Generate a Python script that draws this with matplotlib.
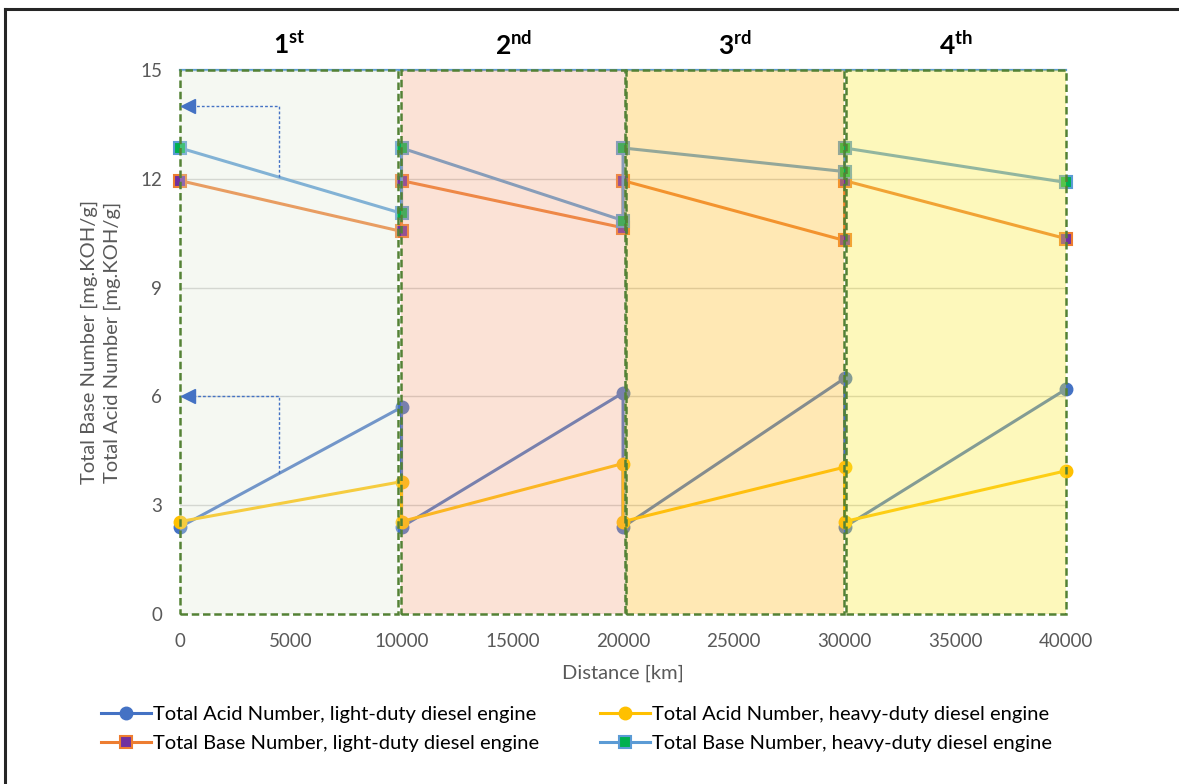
import numpy as np
import matplotlib
matplotlib.use('Agg')
import matplotlib.pyplot as plt
from matplotlib.patches import Rectangle
from matplotlib.lines import Line2D

plt.rcParams['font.family'] = ['Lato', 'DejaVu Sans']
plt.rcParams['mathtext.fontset'] = 'custom'
plt.rcParams['mathtext.rm'] = 'Lato'
plt.rcParams['mathtext.bf'] = 'Lato:bold'

# data
distance = [0, 10000, 10000, 20000, 20000, 30000, 30000, 40000]
tan_light = [2.4, 5.7, 2.4, 6.1, 2.4, 6.5, 2.4, 6.2]
tan_heavy = [2.55, 3.65, 2.55, 4.15, 2.55, 4.05, 2.55, 3.95]
tbn_light = [11.95, 10.55, 11.95, 10.65, 11.95, 10.3, 11.95, 10.35]
tbn_heavy = [12.85, 11.05, 12.85, 10.85, 12.85, 12.2, 12.85, 11.9]

zone_labels = [r'$\mathbf{1^{st}}$', r'$\mathbf{2^{nd}}$', r'$\mathbf{3^{rd}}$', r'$\mathbf{4^{th}}$']
zone_bounds = [(0, 9850), (9980, 20100), (20150, 29980), (30050, 40000)]
zone_colors = ['#dfead6', '#f2a27a', '#ffbe2a', '#fbeb3c']
zone_alpha = [0.3, 0.3, 0.35, 0.35]

legend_labels = ['Total Acid Number, light-duty diesel engine',
                 'Total Base Number, light-duty diesel engine',
                 'Total Acid Number, heavy-duty diesel engine',
                 'Total Base Number, heavy-duty diesel engine']

grey = '#595959'

fig = plt.figure(figsize=(11.79, 7.84), dpi=100)
ax = fig.add_axes([0.1527, 0.2168, 0.7515, 0.6939])

ax.set_xlim(0, 40000)
ax.set_ylim(0, 15)
ax.set_xticks(np.arange(0, 40001, 5000))
ax.set_yticks(np.arange(0, 16, 3))
ax.tick_params(length=0, labelsize=13.5, labelcolor=grey)
ax.tick_params(axis='x', pad=14)
ax.tick_params(axis='y', pad=13)
for s in ['left', 'right', 'bottom']:
    ax.spines[s].set_visible(False)
ax.spines['top'].set_color('#5b9bd5')
ax.spines['top'].set_linewidth(1.6)
ax.yaxis.grid(True, color='#d0d0d0', linewidth=1.0)
ax.set_axisbelow(True)

# series
h1, = ax.plot(distance, tan_light, color='#4472c4', lw=2.2, marker='o', ms=9,
              mfc='#4472c4', mec='#4472c4', clip_on=False, zorder=2)
h2, = ax.plot(distance, tbn_light, color='#ed7d31', lw=2.2, marker='s', ms=9,
              mfc='#7030a0', mec='#ed7d31', mew=1.5, clip_on=False, zorder=2)
h3, = ax.plot(distance, tan_heavy, color='#ffc000', lw=2.2, marker='o', ms=9,
              mfc='#ffc000', mec='#ffc000', clip_on=False, zorder=2)
h4, = ax.plot(distance, tbn_heavy, color='#5b9bd5', lw=2.2, marker='s', ms=9,
              mfc='#00b050', mec='#5b9bd5', mew=1.5, clip_on=False, zorder=2)

# shaded stages drawn over the lines, with dashed green borders
for (x0, x1), c, a, lab in zip(zone_bounds, zone_colors, zone_alpha, zone_labels):
    ax.add_patch(Rectangle((x0, 0), x1 - x0, 15, facecolor=c, alpha=a,
                           edgecolor='none', zorder=3, clip_on=False))
    ax.add_patch(Rectangle((x0, 0), x1 - x0, 15, facecolor='none',
                           edgecolor='#548235', lw=1.8, ls=(0, (3, 1.5)),
                           zorder=4, clip_on=False))
    ax.text((x0 + x1) / 2, 15.42, lab, ha='center', va='baseline', fontsize=19,
            color='black')

# dashed arrows pointing at the axis
arrow_x = 4470
for series, target in [(tbn_heavy, 14), (tan_light, 6)]:
    y_start = np.interp(arrow_x, distance[:2], series[:2])
    ax.plot([arrow_x, arrow_x, 350], [y_start, target, target], color='#4472c4',
            lw=1.0, ls=(0, (2, 1.5)), zorder=5)
    ax.plot([350], [target], marker='<', ms=10, color='#4472c4', zorder=5)

ax.set_xlabel('Distance [km]', fontsize=14.5, color=grey, labelpad=10)
ax.set_ylabel('Total Base Number [mg.KOH/g]\nTotal Acid Number [mg.KOH/g]',
              fontsize=14.5, color=grey, labelpad=14, linespacing=1.4)

fig.legend([h1, h2, h3, h4], legend_labels, ncol=2, loc='center',
           bbox_to_anchor=(0.489, 0.0702), frameon=False, fontsize=14.5,
           handlelength=2.5, handletextpad=0.1, columnspacing=3.0,
           labelspacing=0.6)

# frame lines along top and left edges
fig.add_artist(Line2D([5 / 1179, 1], [1 - 9 / 784, 1 - 9 / 784], color='#262626', lw=2.2))
fig.add_artist(Line2D([5 / 1179, 5 / 1179], [0, 1 - 9 / 784], color='#262626', lw=2.2))

fig.savefig('out.png', dpi=100)
